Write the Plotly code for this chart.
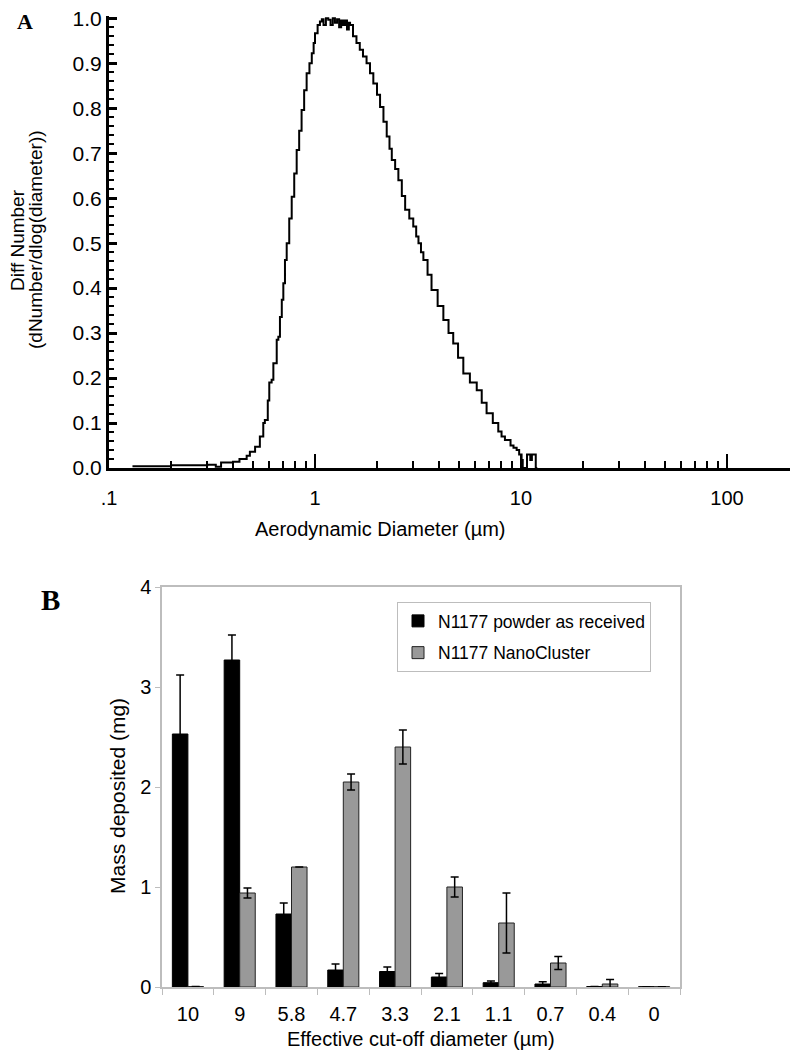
import plotly.graph_objects as go

# ---------------- Panel A data: number size distribution ----------------
diameter_um = [0.13, 0.2, 0.3, 0.33, 0.35, 0.38, 0.40, 0.43, 0.466, 0.483, 0.512, 0.54,
               0.561, 0.571, 0.59, 0.60, 0.616, 0.628, 0.652, 0.664, 0.676, 0.69, 0.702,
               0.715, 0.729, 0.75, 0.771, 0.793, 0.815, 0.838, 0.861, 0.886, 0.911, 0.94,
               0.965, 0.985, 1.0, 1.03, 1.057, 1.08, 1.1, 1.13, 1.16, 1.19, 1.22, 1.25,
               1.28, 1.31, 1.34, 1.37, 1.40, 1.43, 1.46, 1.48, 1.53, 1.59, 1.65, 1.71,
               1.78, 1.85, 1.92, 2.0, 2.07, 2.15, 2.23, 2.3, 2.36, 2.45, 2.54, 2.64, 2.74,
               2.87, 3.0, 3.1, 3.18, 3.27, 3.36, 3.52, 3.68, 3.94, 4.2, 4.45, 4.69, 4.95,
               5.25, 5.65, 6.1, 6.45, 6.81, 7.3, 7.76, 8.05, 8.36, 8.9, 9.2, 9.53, 9.8,
               10.07, 10.2, 10.7, 11.1, 11.3, 11.8, 12.0]
diff_number = [0.004, 0.006, 0.007, 0.003, 0.012, 0.012, 0.014, 0.02, 0.027, 0.036, 0.047, 0.07,
               0.10, 0.107, 0.15, 0.19, 0.196, 0.233, 0.285, 0.292, 0.336, 0.374, 0.411,
               0.4625, 0.50, 0.555, 0.603, 0.655, 0.707, 0.75, 0.796, 0.84, 0.878, 0.90,
               0.922, 0.945, 0.967, 0.985, 0.993, 0.998, 0.985, 1.0, 0.997, 0.985, 1.0, 0.99,
               0.998, 0.98, 0.995, 0.985, 0.995, 0.975, 0.99, 0.985, 0.96, 0.945, 0.93, 0.915,
               0.90, 0.878, 0.855, 0.83, 0.803, 0.77, 0.737, 0.71, 0.685, 0.665, 0.64, 0.605, 0.574,
               0.555, 0.537, 0.515, 0.50, 0.48, 0.4625, 0.43, 0.396, 0.36, 0.329, 0.30, 0.277, 0.245,
               0.21, 0.19, 0.173, 0.145, 0.122, 0.10, 0.081, 0.07, 0.062, 0.05, 0.045, 0.04, 0.03,
               0.018, 0.0, 0.03, 0.018, 0.03, 0.0, 0.0]

a_xtick_vals = [0.1, 1, 10, 100]
a_xtick_text = [".1", "1", "10", "100"]
a_xminor_vals = [0.2, 0.3, 0.4, 0.5, 0.6, 0.7, 0.8, 0.9,
                 2, 3, 4, 5, 6, 7, 8, 9,
                 20, 30, 40, 50, 60, 70, 80, 90]

# ---------------- Panel B data: cascade impactor deposition ----------------
cutoff_labels = ["10", "9", "5.8", "4.7", "3.3", "2.1", "1.1", "0.7", "0.4", "0"]
received_mg = [2.53, 3.27, 0.73, 0.17, 0.155, 0.10, 0.043, 0.03, 0.005, 0.003]
received_err = [0.59, 0.25, 0.11, 0.06, 0.045, 0.035, 0.017, 0.022, None, None]
nanocluster_mg = [0.005, 0.94, 1.20, 2.05, 2.40, 1.00, 0.64, 0.24, 0.03, 0.003]
nanocluster_err = [None, 0.05, None, 0.08, 0.17, 0.10, 0.30, 0.065, 0.045, None]

# the page has an 8px body margin: the figure starts at (8, 8) in the window
OFF = 8
W, H = 798 - OFF, 1050 - OFF
FONT = "Liberation Sans, Arial, sans-serif"
SERIF = "Liberation Serif, Times New Roman, serif"


def fx(px):
    return (px - OFF) / W


def fy(py):
    return 1 - (py - OFF) / H


def note(text, x, y, size, family=FONT, angle=0):
    return dict(text=text, x=fx(x), y=fy(y), xref="paper", yref="paper",
                xanchor="center", yanchor="middle", showarrow=False, textangle=angle,
                font=dict(size=size, color="black", family=family))


fig = go.Figure()

fig.add_trace(go.Scatter(
    x=diameter_um, y=diff_number, mode="lines",
    line=dict(color="black", width=2, shape="hv"),
    xaxis="x", yaxis="y", showlegend=False, hoverinfo="skip"))

fig.add_trace(go.Bar(
    name="N1177 powder as received", x=cutoff_labels, y=received_mg,
    marker=dict(color="black", line=dict(color="black", width=1)),
    error_y=dict(type="data", array=received_err, color="black", thickness=1.5, width=4),
    xaxis="x2", yaxis="y2", legendgroup="a"))

fig.add_trace(go.Bar(
    name="N1177 NanoCluster", x=cutoff_labels, y=nanocluster_mg,
    marker=dict(color="#999999", line=dict(color="#222222", width=1)),
    error_y=dict(type="data", array=nanocluster_err, color="black", thickness=1.5, width=4),
    xaxis="x2", yaxis="y2", legendgroup="b"))

fig.update_layout(
    width=W, height=H, autosize=False,
    margin=dict(l=0, r=0, t=0, b=0, pad=0, autoexpand=False),
    paper_bgcolor="white", plot_bgcolor="white",
    font=dict(family=FONT, color="black"),
    barmode="group", bargap=0.4, bargroupgap=0.0,
    xaxis=dict(
        type="log", domain=[fx(109), 1.0], range=[-1, 2.345], anchor="y",
        automargin=False,
        showline=True, linewidth=3, linecolor="black",
        ticks="inside", ticklen=14, tickwidth=2, tickcolor="black",
        tickmode="array", tickvals=a_xtick_vals, ticktext=a_xtick_text,
        tickfont=dict(size=20, color="black", family=FONT),
        minor=dict(tickmode="array", tickvals=a_xminor_vals, ticks="inside",
                   ticklen=7, tickwidth=2, tickcolor="black", showgrid=False),
        showgrid=False, zeroline=False, ticklabelstandoff=10,
        ticklabeloverflow="allow",
    ),
    yaxis=dict(
        domain=[fy(468), fy(15.6)], range=[0, 1.006], anchor="x",
        automargin=False,
        showline=True, linewidth=3, linecolor="black",
        ticks="inside", ticklen=8, tickwidth=2.5, tickcolor="black",
        dtick=0.1, tick0=0, tickformat=".1f",
        tickfont=dict(size=21, color="black", family=FONT),
        minor=dict(dtick=0.02, ticks="inside", ticklen=5, tickwidth=2,
                   tickcolor="black", showgrid=False),
        showgrid=False, zeroline=False, ticklabeloverflow="allow",
    ),
    xaxis2=dict(
        domain=[fx(162), fx(680)], anchor="y2", type="category",
        automargin=False,
        showline=True, linewidth=1.5, linecolor="#bdbdbd", mirror=True,
        ticks="outside", tickson="boundaries", ticklen=6, tickwidth=1, tickcolor="#bdbdbd",
        tickfont=dict(size=20, color="black", family=FONT),
        showgrid=False, zeroline=False, ticklabelstandoff=8,
        ticklabeloverflow="allow",
    ),
    yaxis2=dict(
        domain=[fy(987), fy(587)], range=[0, 4], anchor="x2", dtick=1,
        automargin=False,
        showline=True, linewidth=1.5, linecolor="#bdbdbd", mirror=True,
        ticks="outside", ticklen=5, tickwidth=1, tickcolor="#bdbdbd",
        tickfont=dict(size=20, color="black", family=FONT),
        showgrid=False, zeroline=False, ticklabeloverflow="allow",
    ),
    legend=dict(
        x=fx(397), y=fy(602), xanchor="left", yanchor="top",
        bgcolor="white", bordercolor="#bdbdbd", borderwidth=1,
        font=dict(size=17.5, color="black", family=FONT),
        traceorder="grouped", tracegroupgap=6,
    ),
    annotations=[
        note("<b>A</b>", 25, 21, 22, SERIF),
        note("<b>B</b>", 50, 600, 29, SERIF),
        note("Diff Number", 18, 240, 19, angle=-90),
        note("(dNumber/dlog(diameter))", 36, 240, 19, angle=-90),
        note("Aerodynamic Diameter (µm)", 380, 529, 20),
        note("Mass deposited (mg)", 117, 796, 21, angle=-90),
        note("Effective cut-off diameter (µm)", 421, 1039, 20),
    ],
)

fig.write_html("out.html")
